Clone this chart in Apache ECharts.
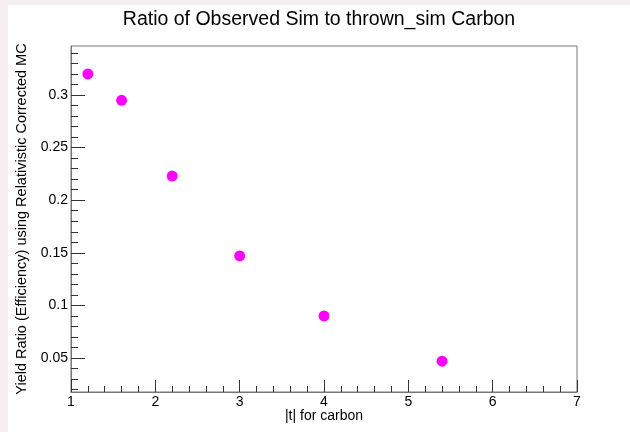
<!DOCTYPE html>
<html>
<head>
<meta charset="utf-8">
<script src="https://cdn.jsdelivr.net/npm/echarts@6/dist/echarts.min.js"></script>
<style>
  html, body { margin: 0; padding: 0; }
  .page { position: relative; width: 630px; height: 432px; background: #f7eef2; overflow: hidden; }
  .chart { position: absolute; left: 8px; top: 5px; width: 622px; height: 427px; background: #ffffff; }
</style>
</head>
<body>
<div class="page">
  <div id="chart" class="chart"></div>
</div>
<script>
// |t| values and yield ratio
const tValues = [1.2, 1.6, 2.2, 3.0, 4.0, 5.4]
const yieldRatio = [0.320, 0.295, 0.223, 0.147, 0.090, 0.047]

// axis ranges and tick positions
const xRange = [1, 7]
const yRange = [0.0177, 0.3466]
const yMajorTicks = [0.05, 0.1, 0.15, 0.2, 0.25, 0.3]
const yMinorTicks = [0.02, 0.03, 0.04, 0.06, 0.07, 0.08, 0.09, 0.11, 0.12, 0.13, 0.14,
  0.16, 0.17, 0.18, 0.19, 0.21, 0.22, 0.23, 0.24, 0.26, 0.27, 0.28, 0.29,
  0.31, 0.32, 0.33, 0.34]

const fontFamily = '"Liberation Sans", Arial, sans-serif'
const frameColor = '#777777'
const tickColor = '#333333'

const chart = echarts.init(document.getElementById('chart'))

const option = {
  backgroundColor: 'transparent',
  animation: false,
  title: {
    text: 'Ratio of Observed Sim to thrown_sim Carbon',
    left: 'center',
    top: 0,
    textStyle: {
      fontFamily: fontFamily,
      fontSize: 19.5,
      fontWeight: 'normal',
      color: '#000'
    }
  },
  grid: {
    left: 63,
    right: 53,
    top: 41,
    bottom: 40,
    outerBoundsMode: 'none',
    containLabel: false,
    show: true,
    borderColor: frameColor,
    borderWidth: 1,
    backgroundColor: '#fff'
  },
  xAxis: {
    type: 'value',
    min: xRange[0],
    max: xRange[1],
    interval: 1,
    name: '|t| for carbon',
    nameLocation: 'middle',
    nameGap: 17,
    nameMoveOverlap: false,
    nameTextStyle: { fontFamily: fontFamily, fontSize: 14, color: '#000' },
    axisLine: { show: true, lineStyle: { color: frameColor } },
    axisTick: { show: true, inside: true, length: 12, lineStyle: { color: tickColor } },
    minorTick: { show: true, splitNumber: 5, length: 6, lineStyle: { color: tickColor } },
    axisLabel: { fontFamily: fontFamily, fontSize: 14, color: '#000', margin: 3 },
    splitLine: { show: false }
  },
  yAxis: [{
    type: 'value',
    min: yRange[0],
    max: yRange[1],
    name: 'Yield Ratio (Efficiency) using Relativistic Corrected MC',
    nameLocation: 'middle',
    nameGap: 42,
    nameTextStyle: { fontFamily: fontFamily, fontSize: 14.5, color: '#000' },
    axisLine: { show: true, lineStyle: { color: frameColor } },
    axisTick: {
      show: true, inside: true, length: 14,
      customValues: yMajorTicks,
      lineStyle: { color: tickColor }
    },
    axisLabel: {
      fontFamily: fontFamily, fontSize: 14, color: '#000', margin: 3,
      customValues: yMajorTicks
    },
    splitLine: { show: false }
  }, {
    // overlay axis carrying only the minor ticks
    type: 'value',
    min: yRange[0],
    max: yRange[1],
    position: 'left',
    axisLine: { show: false },
    axisTick: {
      show: true, inside: true, length: 7,
      customValues: yMinorTicks,
      lineStyle: { color: tickColor }
    },
    axisLabel: { show: false },
    splitLine: { show: false }
  }],
  series: [{
    type: 'scatter',
    yAxisIndex: 0,
    data: tValues.map((t, i) => [t, yieldRatio[i]]),
    symbol: 'circle',
    symbolSize: 11,
    itemStyle: { color: '#ff00ff', opacity: 1 }
  }]
}

chart.setOption(option)
</script>
</body>
</html>
